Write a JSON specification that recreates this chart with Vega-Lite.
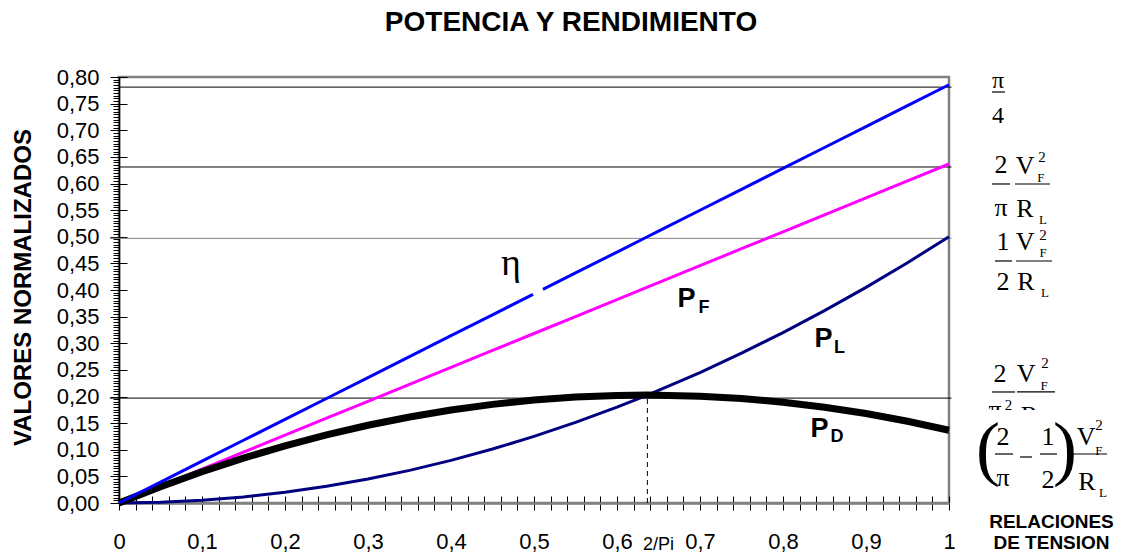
{
  "$schema": "https://vega.github.io/schema/vega-lite/v6.json",
  "width": 830,
  "height": 426,
  "autosize": {"type": "none"},
  "padding": {"left": 119, "top": 77, "right": 172, "bottom": 53},
  "background": "white",
  "config": {
    "view": {"stroke": "#808080", "strokeWidth": 2.5},
    "font": "Liberation Sans",
    "axis": {"grid": false}
  },
  "title": {
    "text": "POTENCIA Y RENDIMIENTO",
    "font": "Liberation Sans",
    "fontSize": 28,
    "fontWeight": "bold",
    "color": "black",
    "anchor": "middle",
    "frame": "group",
    "dx": 37,
    "baseline": "alphabetic",
    "offset": 7
  },
  "resolve": {"axis": {"x": "independent", "y": "independent"}},
  "datasets": {
    "curves": [
      {"x": 0, "eta": 0, "pf": 0, "pl": 0, "pd": 0},
      {"x": 0.05, "eta": 0.0393, "pf": 0.0318, "pl": 0.0013, "pd": 0.0306},
      {"x": 0.1, "eta": 0.0785, "pf": 0.0637, "pl": 0.005, "pd": 0.0587},
      {"x": 0.15, "eta": 0.1178, "pf": 0.0955, "pl": 0.0113, "pd": 0.0843},
      {"x": 0.2, "eta": 0.1571, "pf": 0.1273, "pl": 0.02, "pd": 0.1073},
      {"x": 0.25, "eta": 0.1963, "pf": 0.1592, "pl": 0.0313, "pd": 0.1279},
      {"x": 0.3, "eta": 0.2356, "pf": 0.191, "pl": 0.045, "pd": 0.146},
      {"x": 0.35, "eta": 0.2749, "pf": 0.2228, "pl": 0.0613, "pd": 0.1616},
      {"x": 0.4, "eta": 0.3142, "pf": 0.2546, "pl": 0.08, "pd": 0.1746},
      {"x": 0.45, "eta": 0.3534, "pf": 0.2865, "pl": 0.1013, "pd": 0.1852},
      {"x": 0.5, "eta": 0.3927, "pf": 0.3183, "pl": 0.125, "pd": 0.1933},
      {"x": 0.55, "eta": 0.432, "pf": 0.3501, "pl": 0.1513, "pd": 0.1989},
      {"x": 0.6, "eta": 0.4712, "pf": 0.382, "pl": 0.18, "pd": 0.202},
      {"x": 0.6366, "eta": 0.5, "pf": 0.4053, "pl": 0.2026, "pd": 0.2026},
      {"x": 0.65, "eta": 0.5105, "pf": 0.4138, "pl": 0.2113, "pd": 0.2025},
      {"x": 0.7, "eta": 0.5498, "pf": 0.4456, "pl": 0.245, "pd": 0.2006},
      {"x": 0.75, "eta": 0.589, "pf": 0.4775, "pl": 0.2813, "pd": 0.1962},
      {"x": 0.8, "eta": 0.6283, "pf": 0.5093, "pl": 0.32, "pd": 0.1893},
      {"x": 0.85, "eta": 0.6676, "pf": 0.5411, "pl": 0.3613, "pd": 0.1799},
      {"x": 0.9, "eta": 0.7069, "pf": 0.573, "pl": 0.405, "pd": 0.168},
      {"x": 0.95, "eta": 0.7461, "pf": 0.6048, "pl": 0.4513, "pd": 0.1535},
      {"x": 1, "eta": 0.7854, "pf": 0.6366, "pl": 0.5, "pd": 0.1366}
    ],
    "hlines": [
      {"y": 0.781, "x0": 0, "x1": 1.003, "k": "black"},
      {"y": 0.631, "x0": 0, "x1": 1.003, "k": "black"},
      {"y": 0.497, "x0": -0.011, "x1": 1.003, "k": "gray"},
      {"y": 0.197, "x0": -0.011, "x1": 1.003, "k": "black"}
    ],
    "vline": [{"x": 0.6366, "y0": 0, "y1": 0.197}],
    "gap": [{"x": 0.4988, "x2": 0.5108, "y": 0.3917, "y2": 0.4012}],
    "bars": [
      {"x": 1.0518, "x2": 1.0675, "y": 0.7718},
      {"x": 1.0518, "x2": 1.0735, "y": 0.5991},
      {"x": 1.0795, "x2": 1.1217, "y": 0.5991},
      {"x": 1.0554, "x2": 1.0759, "y": 0.4545},
      {"x": 1.0807, "x2": 1.1241, "y": 0.4545},
      {"x": 1.0518, "x2": 1.0795, "y": 0.2085},
      {"x": 1.0819, "x2": 1.1277, "y": 0.2085},
      {"x": 1.0554, "x2": 1.0771, "y": 0.092},
      {"x": 1.0855, "x2": 1.1, "y": 0.0864},
      {"x": 1.1096, "x2": 1.1301, "y": 0.092},
      {"x": 1.1482, "x2": 1.1904, "y": 0.092}
    ],
    "hidden": [
      {"x": 1.0554, "y": 0.1596, "t": "π", "g": "m"},
      {"x": 1.0717, "y": 0.1746, "t": "2", "g": "sup"},
      {"x": 1.097, "y": 0.1484, "t": "R", "g": "m"}
    ],
    "mask": [{"x": 1.0373, "x2": 1.2067, "y": 0.1746, "y2": 0.005}],
    "math": [
      {"x": 1.059, "y": 0.7793, "t": "π", "g": "m20"},
      {"x": 1.059, "y": 0.7136, "t": "4", "g": "m20"},
      {"x": 1.0627, "y": 0.6197, "t": "2", "g": "m"},
      {"x": 1.0916, "y": 0.6178, "t": "V", "g": "m"},
      {"x": 1.112, "y": 0.6404, "t": "2", "g": "sup"},
      {"x": 1.1108, "y": 0.6028, "t": "F", "g": "sub"},
      {"x": 1.0627, "y": 0.539, "t": "π", "g": "m"},
      {"x": 1.0916, "y": 0.5371, "t": "R", "g": "m"},
      {"x": 1.1133, "y": 0.5239, "t": "L", "g": "sub"},
      {"x": 1.0651, "y": 0.4751, "t": "1", "g": "m"},
      {"x": 1.0916, "y": 0.4751, "t": "V", "g": "m"},
      {"x": 1.1133, "y": 0.4939, "t": "2", "g": "sup"},
      {"x": 1.1133, "y": 0.462, "t": "F", "g": "sub"},
      {"x": 1.0651, "y": 0.4, "t": "2", "g": "m"},
      {"x": 1.0928, "y": 0.4, "t": "R", "g": "m"},
      {"x": 1.1157, "y": 0.3869, "t": "L", "g": "sub"},
      {"x": 1.0614, "y": 0.2272, "t": "2", "g": "m"},
      {"x": 1.0928, "y": 0.2272, "t": "V", "g": "m"},
      {"x": 1.1157, "y": 0.2535, "t": "2", "g": "sup"},
      {"x": 1.1145, "y": 0.2122, "t": "F", "g": "sub"},
      {"x": 1.047, "y": 0.0582, "t": "(", "g": "paren"},
      {"x": 1.0651, "y": 0.1089, "t": "2", "g": "m"},
      {"x": 1.0651, "y": 0.0319, "t": "π", "g": "m"},
      {"x": 1.1193, "y": 0.1089, "t": "1", "g": "m"},
      {"x": 1.1193, "y": 0.0282, "t": "2", "g": "m"},
      {"x": 1.1398, "y": 0.0582, "t": ")", "g": "paren"},
      {"x": 1.1651, "y": 0.1089, "t": "V", "g": "m"},
      {"x": 1.1807, "y": 0.1371, "t": "2", "g": "sup"},
      {"x": 1.1807, "y": 0.0901, "t": "F", "g": "sub"},
      {"x": 1.1663, "y": 0.0244, "t": "R", "g": "m"},
      {"x": 1.1855, "y": 0.0113, "t": "L", "g": "sub"}
    ],
    "labels": [
      {"x": 0.4723, "y": 0.4282, "t": "η", "g": "eta"},
      {"x": 0.6837, "y": 0.3681, "t": "P", "g": "P"},
      {"x": 0.7048, "y": 0.3568, "t": "F", "g": "Psub"},
      {"x": 0.8488, "y": 0.293, "t": "P", "g": "P"},
      {"x": 0.8681, "y": 0.2817, "t": "L", "g": "Psub"},
      {"x": 0.844, "y": 0.1239, "t": "P", "g": "P"},
      {"x": 0.8651, "y": 0.1146, "t": "D", "g": "Psub"},
      {"x": 0.65, "y": -0.0883, "t": "2/Pi", "g": "twopi"}
    ]
  },
  "layer": [
    {
      "data": {"name": "hlines"},
      "mark": {"type": "rule", "strokeWidth": 1},
      "encoding": {
        "x": {"field": "x0", "type": "quantitative", "scale": {"domain": [0, 1], "nice": false},
          "axis": {"orient": "bottom", "values": [0,0.02,0.04,0.06,0.08,0.1,0.12,0.14,0.16,0.18,0.2,0.22,0.24,0.26,0.28,0.3,0.32,0.34,0.36,0.38,0.4,0.42,0.44,0.46,0.48,0.5,0.52,0.54,0.56,0.58,0.6,0.62,0.64,0.66,0.68,0.7,0.72,0.74,0.76,0.78,0.8,0.82,0.84,0.86,0.88,0.9,0.92,0.94,0.96,0.98,1], "tickSize": 7, "tickColor": "black", "tickWidth": 1, "labels": false, "domain": false, "title": null}},
        "x2": {"field": "x1"},
        "y": {"field": "y", "type": "quantitative", "scale": {"domain": [0, 0.8], "nice": false},
          "axis": {"orient": "left", "values": [0,0.005,0.01,0.015,0.02,0.025,0.03,0.035,0.04,0.045,0.05,0.055,0.06,0.065,0.07,0.075,0.08,0.085,0.09,0.095,0.1,0.105,0.11,0.115,0.12,0.125,0.13,0.135,0.14,0.145,0.15,0.155,0.16,0.165,0.17,0.175,0.18,0.185,0.19,0.195,0.2,0.205,0.21,0.215,0.22,0.225,0.23,0.235,0.24,0.245,0.25,0.255,0.26,0.265,0.27,0.275,0.28,0.285,0.29,0.295,0.3,0.305,0.31,0.315,0.32,0.325,0.33,0.335,0.34,0.345,0.35,0.355,0.36,0.365,0.37,0.375,0.38,0.385,0.39,0.395,0.4,0.405,0.41,0.415,0.42,0.425,0.43,0.435,0.44,0.445,0.45,0.455,0.46,0.465,0.47,0.475,0.48,0.485,0.49,0.495,0.5,0.505,0.51,0.515,0.52,0.525,0.53,0.535,0.54,0.545,0.55,0.555,0.56,0.565,0.57,0.575,0.58,0.585,0.59,0.595,0.6,0.605,0.61,0.615,0.62,0.625,0.63,0.635,0.64,0.645,0.65,0.655,0.66,0.665,0.67,0.675,0.68,0.685,0.69,0.695,0.7,0.705,0.71,0.715,0.72,0.725,0.73,0.735,0.74,0.745,0.75,0.755,0.76,0.765,0.77,0.775,0.78,0.785,0.79,0.795,0.8], "tickSize": 6, "tickColor": "black", "tickWidth": 1, "labels": false, "domain": false, "title": null}},
        "color": {"field": "k", "type": "nominal", "scale": {"domain": ["black", "gray"], "range": ["#000000", "#808080"]}, "legend": null},
        "strokeWidth": {"field": "k", "type": "nominal", "scale": {"domain": ["black", "gray"], "range": [1, 1.6]}, "legend": null}
      }
    },
    {
      "data": {"name": "vline"},
      "mark": {"type": "rule", "strokeDash": [5, 4], "color": "black", "strokeWidth": 1},
      "encoding": {
        "x": {"field": "x", "type": "quantitative", "scale": {"domain": [0, 1], "nice": false},
          "axis": {"orient": "bottom", "values": [0,0.02,0.04,0.06,0.08,0.1,0.12,0.14,0.16,0.18,0.2,0.22,0.24,0.26,0.28,0.3,0.32,0.34,0.36,0.38,0.4,0.42,0.44,0.46,0.48,0.5,0.52,0.54,0.56,0.58,0.6,0.62,0.64,0.66,0.68,0.7,0.72,0.74,0.76,0.78,0.8,0.82,0.84,0.86,0.88,0.9,0.92,0.94,0.96,0.98,1], "tickSize": -7, "tickColor": "black", "tickWidth": 1, "labels": false, "domain": false, "title": null}},
        "y": {"field": "y0", "type": "quantitative", "scale": {"domain": [0, 0.8], "nice": false},
          "axis": {"orient": "left", "values": [0,0.05,0.1,0.15,0.2,0.25,0.3,0.35,0.4,0.45,0.5,0.55,0.6,0.65,0.7,0.75,0.8], "tickSize": -8, "tickColor": "black", "tickWidth": 1, "labels": false, "domain": false, "title": null}},
        "y2": {"field": "y1"}
      }
    },
    {
      "data": {"name": "curves"},
      "mark": {"type": "line", "color": "#000080", "strokeWidth": 3},
      "encoding": {
        "x": {"field": "x", "type": "quantitative", "scale": {"domain": [0, 1], "nice": false},
          "axis": {"orient": "bottom", "values": [0,0.1,0.2,0.3,0.4,0.5,0.6,0.7,0.8,0.9,1], "ticks": false, "domainColor": "#808080", "domainWidth": 2.5,
            "labelExpr": "replace(format(datum.value, '~g'), '.', ',')", "labelFont": "Liberation Sans", "labelFontSize": 22, "labelColor": "black", "labelPadding": 28, "labelFlush": false, "labelOverlap": false,
            "title": ["RELACIONES", "DE TENSION"], "titleFont": "Liberation Sans", "titleFontSize": 19, "titleFontWeight": "bold", "titleColor": "black",
            "titleX": 932, "titleY": 24, "titleAlign": "center", "titleBaseline": "alphabetic", "titleLineHeight": 21, "titleAngle": 0}},
        "y": {"field": "pl", "type": "quantitative", "scale": {"domain": [0, 0.8], "nice": false},
          "axis": {"orient": "left", "values": [0,0.05,0.1,0.15,0.2,0.25,0.3,0.35,0.4,0.45,0.5,0.55,0.6,0.65,0.7,0.75,0.8], "tickSize": 9, "tickColor": "black", "tickWidth": 1, "domainColor": "black", "domainWidth": 1.5,
            "labelExpr": "replace(format(datum.value, '.2f'), '.', ',')", "labelFont": "Liberation Sans", "labelFontSize": 22, "labelColor": "black", "labelPadding": 11, "labelFlush": false, "labelOverlap": false,
            "title": "VALORES NORMALIZADOS", "titleFont": "Liberation Sans", "titleFontSize": 24, "titleFontWeight": "bold", "titleColor": "black",
            "titleX": -89, "titleY": 210, "titleAlign": "center", "titleBaseline": "alphabetic", "titleAngle": 270}}
      }
    },
    {
      "data": {"name": "curves"},
      "mark": {"type": "line", "color": "#FF00FF", "strokeWidth": 3},
      "encoding": {
        "x": {"field": "x", "type": "quantitative", "scale": {"domain": [0, 1], "nice": false}, "axis": null},
        "y": {"field": "pf", "type": "quantitative", "scale": {"domain": [0, 0.8], "nice": false}, "axis": null}
      }
    },
    {
      "data": {"name": "curves"},
      "mark": {"type": "line", "color": "#000000", "strokeWidth": 7},
      "encoding": {
        "x": {"field": "x", "type": "quantitative", "scale": {"domain": [0, 1], "nice": false}, "axis": null},
        "y": {"field": "pd", "type": "quantitative", "scale": {"domain": [0, 0.8], "nice": false}, "axis": null}
      }
    },
    {
      "data": {"name": "curves"},
      "mark": {"type": "line", "color": "#0000FF", "strokeWidth": 3},
      "encoding": {
        "x": {"field": "x", "type": "quantitative", "scale": {"domain": [0, 1], "nice": false}, "axis": null},
        "y": {"field": "eta", "type": "quantitative", "scale": {"domain": [0, 0.8], "nice": false}, "axis": null}
      }
    },
    {
      "data": {"name": "gap"},
      "mark": {"type": "rule", "color": "white", "strokeWidth": 6},
      "encoding": {
        "x": {"field": "x", "type": "quantitative", "scale": {"domain": [0, 1], "nice": false}, "axis": null},
        "x2": {"field": "x2"},
        "y": {"field": "y", "type": "quantitative", "scale": {"domain": [0, 0.8], "nice": false}, "axis": null},
        "y2": {"field": "y2"}
      }
    },
    {
      "data": {"name": "hidden"},
      "transform": [{"filter": "datum.g === 'm'"}],
      "mark": {"type": "text", "font": "Liberation Serif", "fontSize": 26, "align": "center", "baseline": "alphabetic", "color": "black"},
      "encoding": {
        "x": {"field": "x", "type": "quantitative", "scale": {"domain": [0, 1], "nice": false}, "axis": null},
        "y": {"field": "y", "type": "quantitative", "scale": {"domain": [0, 0.8], "nice": false}, "axis": null},
        "text": {"field": "t"}
      }
    },
    {
      "data": {"name": "hidden"},
      "transform": [{"filter": "datum.g === 'sup'"}],
      "mark": {"type": "text", "font": "Liberation Serif", "fontSize": 15, "align": "center", "baseline": "alphabetic", "color": "black"},
      "encoding": {
        "x": {"field": "x", "type": "quantitative", "scale": {"domain": [0, 1], "nice": false}, "axis": null},
        "y": {"field": "y", "type": "quantitative", "scale": {"domain": [0, 0.8], "nice": false}, "axis": null},
        "text": {"field": "t"}
      }
    },
    {
      "data": {"name": "mask"},
      "mark": {"type": "rect", "color": "white", "opacity": 1},
      "encoding": {
        "x": {"field": "x", "type": "quantitative", "scale": {"domain": [0, 1], "nice": false}, "axis": null},
        "x2": {"field": "x2"},
        "y": {"field": "y", "type": "quantitative", "scale": {"domain": [0, 0.8], "nice": false}, "axis": null},
        "y2": {"field": "y2"}
      }
    },
    {
      "data": {"name": "bars"},
      "mark": {"type": "rule", "color": "black", "strokeWidth": 1.2},
      "encoding": {
        "x": {"field": "x", "type": "quantitative", "scale": {"domain": [0, 1], "nice": false}, "axis": null},
        "x2": {"field": "x2"},
        "y": {"field": "y", "type": "quantitative", "scale": {"domain": [0, 0.8], "nice": false}, "axis": null}
      }
    },
    {
      "data": {"name": "math"},
      "transform": [{"filter": "datum.g === 'm'"}],
      "mark": {"type": "text", "font": "Liberation Serif", "fontSize": 26, "align": "center", "baseline": "alphabetic", "color": "black"},
      "encoding": {
        "x": {"field": "x", "type": "quantitative", "scale": {"domain": [0, 1], "nice": false}, "axis": null},
        "y": {"field": "y", "type": "quantitative", "scale": {"domain": [0, 0.8], "nice": false}, "axis": null},
        "text": {"field": "t"}
      }
    },
    {
      "data": {"name": "math"},
      "transform": [{"filter": "datum.g === 'm20'"}],
      "mark": {"type": "text", "font": "Liberation Serif", "fontSize": 24, "align": "center", "baseline": "alphabetic", "color": "black"},
      "encoding": {
        "x": {"field": "x", "type": "quantitative", "scale": {"domain": [0, 1], "nice": false}, "axis": null},
        "y": {"field": "y", "type": "quantitative", "scale": {"domain": [0, 0.8], "nice": false}, "axis": null},
        "text": {"field": "t"}
      }
    },
    {
      "data": {"name": "math"},
      "transform": [{"filter": "datum.g === 'sup'"}],
      "mark": {"type": "text", "font": "Liberation Serif", "fontSize": 15, "align": "center", "baseline": "alphabetic", "color": "black"},
      "encoding": {
        "x": {"field": "x", "type": "quantitative", "scale": {"domain": [0, 1], "nice": false}, "axis": null},
        "y": {"field": "y", "type": "quantitative", "scale": {"domain": [0, 0.8], "nice": false}, "axis": null},
        "text": {"field": "t"}
      }
    },
    {
      "data": {"name": "math"},
      "transform": [{"filter": "datum.g === 'sub'"}],
      "mark": {"type": "text", "font": "Liberation Serif", "fontSize": 13, "align": "center", "baseline": "alphabetic", "color": "black"},
      "encoding": {
        "x": {"field": "x", "type": "quantitative", "scale": {"domain": [0, 1], "nice": false}, "axis": null},
        "y": {"field": "y", "type": "quantitative", "scale": {"domain": [0, 0.8], "nice": false}, "axis": null},
        "text": {"field": "t"}
      }
    },
    {
      "data": {"name": "math"},
      "transform": [{"filter": "datum.g === 'paren'"}],
      "mark": {"type": "text", "font": "Liberation Serif", "fontSize": 72, "align": "center", "baseline": "alphabetic", "color": "black"},
      "encoding": {
        "x": {"field": "x", "type": "quantitative", "scale": {"domain": [0, 1], "nice": false}, "axis": null},
        "y": {"field": "y", "type": "quantitative", "scale": {"domain": [0, 0.8], "nice": false}, "axis": null},
        "text": {"field": "t"}
      }
    },
    {
      "data": {"name": "labels"},
      "transform": [{"filter": "datum.g === 'eta'"}],
      "mark": {"type": "text", "font": "Liberation Serif", "fontSize": 38, "align": "center", "baseline": "alphabetic", "color": "black"},
      "encoding": {
        "x": {"field": "x", "type": "quantitative", "scale": {"domain": [0, 1], "nice": false}, "axis": null},
        "y": {"field": "y", "type": "quantitative", "scale": {"domain": [0, 0.8], "nice": false}, "axis": null},
        "text": {"field": "t"}
      }
    },
    {
      "data": {"name": "labels"},
      "transform": [{"filter": "datum.g === 'P'"}],
      "mark": {"type": "text", "font": "Liberation Sans", "fontSize": 27, "fontWeight": "bold", "align": "center", "baseline": "alphabetic", "color": "black"},
      "encoding": {
        "x": {"field": "x", "type": "quantitative", "scale": {"domain": [0, 1], "nice": false}, "axis": null},
        "y": {"field": "y", "type": "quantitative", "scale": {"domain": [0, 0.8], "nice": false}, "axis": null},
        "text": {"field": "t"}
      }
    },
    {
      "data": {"name": "labels"},
      "transform": [{"filter": "datum.g === 'Psub'"}],
      "mark": {"type": "text", "font": "Liberation Sans", "fontSize": 18, "fontWeight": "bold", "align": "center", "baseline": "alphabetic", "color": "black"},
      "encoding": {
        "x": {"field": "x", "type": "quantitative", "scale": {"domain": [0, 1], "nice": false}, "axis": null},
        "y": {"field": "y", "type": "quantitative", "scale": {"domain": [0, 0.8], "nice": false}, "axis": null},
        "text": {"field": "t"}
      }
    },
    {
      "data": {"name": "labels"},
      "transform": [{"filter": "datum.g === 'twopi'"}],
      "mark": {"type": "text", "font": "Liberation Sans", "fontSize": 18, "align": "center", "baseline": "alphabetic", "color": "black"},
      "encoding": {
        "x": {"field": "x", "type": "quantitative", "scale": {"domain": [0, 1], "nice": false}, "axis": null},
        "y": {"field": "y", "type": "quantitative", "scale": {"domain": [0, 0.8], "nice": false}, "axis": null},
        "text": {"field": "t"}
      }
    }
  ]
}
